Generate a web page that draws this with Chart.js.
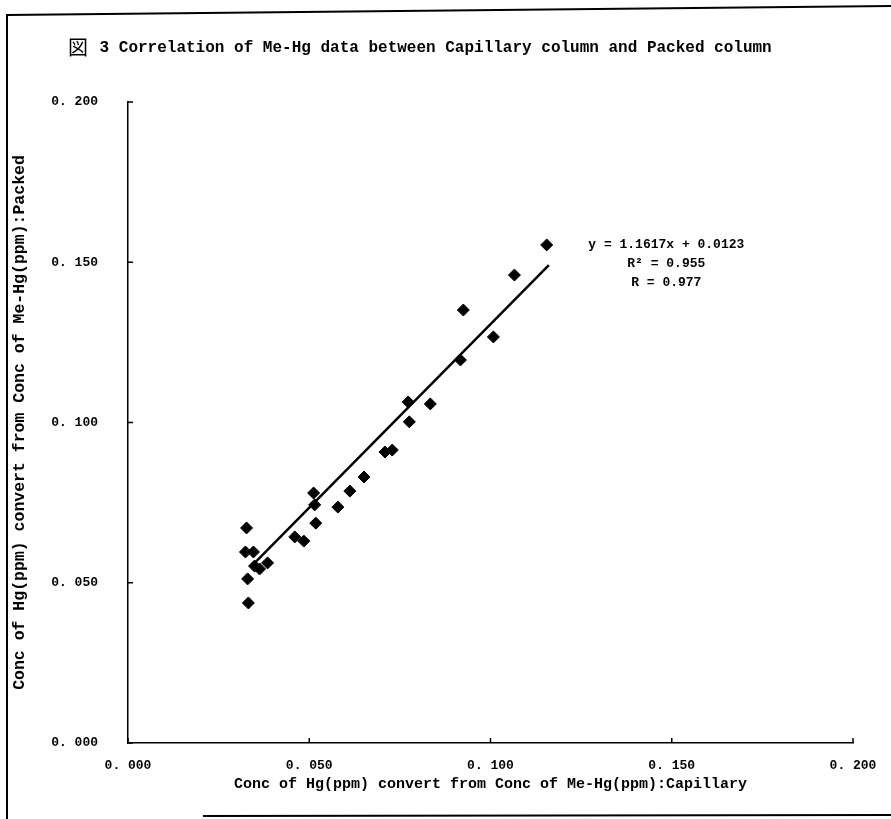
<!DOCTYPE html>
<html>
<head>
<meta charset="utf-8">
<script src="https://cdn.jsdelivr.net/npm/chart.js@4/dist/chart.umd.min.js"></script>
<style>
html,body{margin:0;padding:0;background:#fff;}
#wrap{width:891px;height:819px;position:relative;}
</style>
</head>
<body>
<div id="wrap"><canvas id="c" width="891" height="819"></canvas></div>
<script>
// Data
const capillary = [0.1155,0.1066,0.0925,0.1008,0.0917,0.0773,0.0834,0.0776,0.0709,0.0729,0.0651,0.0612,0.0579,0.0512,0.0515,0.0518,0.0460,0.0485,0.0327,0.0324,0.0346,0.0349,0.0363,0.0385,0.0330,0.0332];
const packed    = [0.1554,0.1460,0.1351,0.1267,0.1195,0.1064,0.1058,0.1002,0.0908,0.0914,0.0830,0.0786,0.0736,0.0780,0.0743,0.0686,0.0643,0.0630,0.0671,0.0596,0.0596,0.0552,0.0543,0.0562,0.0512,0.0437];
const trendX = [0.0338, 0.1161];
const trendY = [0.0549, 0.1491];
const axisTicks = [0.000, 0.050, 0.100, 0.150, 0.200];
const titleText = "図 3 Correlation of Me-Hg data between Capillary column and Packed column";
const xTitle = "Conc of Hg(ppm) convert from Conc of Me-Hg(ppm):Capillary";
const yTitle = "Conc of Hg(ppm) convert from Conc of Me-Hg(ppm):Packed";
const eqLines = ["y = 1.1617x + 0.0123", "R² = 0.955", "R = 0.977"];

const mono = "'Liberation Mono', 'DejaVu Sans Mono', monospace";
const fmt = v => v.toFixed(3).replace('.', '. ');

const pts = capillary.map((x,i)=>({x:x, y:packed[i]}));
const trend = trendX.map((x,i)=>({x:x, y:trendY[i]}));

const decor = {
  id:'decor',
  afterDraw(chart){
    const ctx = chart.ctx;
    const xs = chart.scales.x, ys = chart.scales.y;
    ctx.save();
    // frame (scanned page border)
    ctx.strokeStyle = '#000';
    ctx.lineWidth = 2;
    ctx.beginPath();
    ctx.moveTo(7, 819); ctx.lineTo(7, 15); ctx.lineTo(891, 6);
    ctx.moveTo(203, 816); ctx.lineTo(891, 815);
    ctx.stroke();
    // inner ticks
    ctx.lineWidth = 1.5;
    ctx.beginPath();
    axisTicks.forEach(v=>{
      const py = ys.getPixelForValue(v);
      ctx.moveTo(ys.right, py); ctx.lineTo(ys.right+5, py);
      const px = xs.getPixelForValue(v);
      ctx.moveTo(px, xs.top); ctx.lineTo(px, xs.top-5);
    });
    ctx.stroke();
    // title
    ctx.fillStyle = '#000';
    ctx.textBaseline = 'middle';
    ctx.textAlign = 'left';
    ctx.font = "20px 'Noto Sans CJK JP'";
    ctx.fillText("図", 68, 47);
    ctx.font = "bold 16px " + mono;
    ctx.fillText(titleText.slice(1), 90, 48);
    // equation
    ctx.textAlign = 'center';
    ctx.font = "bold 13px " + mono;
    const cx = xs.getPixelForValue(0.1485);
    const y0 = ys.getPixelForValue(0.1555);
    eqLines.forEach((t,i)=>ctx.fillText(t, cx, y0 + i*19));
    ctx.restore();
  }
};

new Chart(document.getElementById('c'), {
  data: {
    datasets: [
      { type:'scatter', data: pts, pointStyle:'rectRot', pointRadius:6, pointHoverRadius:6,
        backgroundColor:'#000', borderColor:'#000', borderWidth:1, order:1 },
      { type:'line', data: trend, borderColor:'#000', borderWidth:2.5, pointRadius:0,
        fill:false, tension:0, order:2 }
    ]
  },
  options: {
    responsive:false,
    animation:false,
    events:[],
    layout:{ padding:{ left:0, right:38, top:102, bottom:26 } },
    plugins:{ legend:{display:false}, tooltip:{enabled:false}, title:{display:false} },
    scales:{
      x:{
        type:'linear', min:0, max:0.2,
        afterBuildTicks: s => { s.ticks = axisTicks.map(v=>({value:v})); },
        afterFit: s => { s.height = 50; s.paddingLeft = 0; s.paddingRight = 0; },
        grid:{ display:false, drawTicks:false },
        border:{ display:true, color:'#000', width:1.5 },
        ticks:{ callback: v => fmt(v), color:'#000', padding:15, maxRotation:0,
                font:{ family:mono, size:13, weight:'bold' } },
        title:{ display:true, text:xTitle, color:'#000', padding:{top:2,bottom:0},
                font:{ family:mono, size:15, weight:'bold' } }
      },
      y:{
        type:'linear', min:0, max:0.2,
        afterBuildTicks: s => { s.ticks = axisTicks.map(v=>({value:v})); },
        afterFit: s => { s.width = 128; s.paddingTop = 0; s.paddingBottom = 0; },
        grid:{ display:false, drawTicks:false },
        border:{ display:true, color:'#000', width:1.5 },
        ticks:{ callback: v => fmt(v), color:'#000', padding:30,
                font:{ family:mono, size:13, weight:'bold' } },
        title:{ display:true, text:yTitle, color:'#000', padding:{top:10,bottom:0},
                font:{ family:mono, size:16.5, weight:'bold' } }
      }
    }
  },
  plugins:[decor]
});
</script>
</body>
</html>
